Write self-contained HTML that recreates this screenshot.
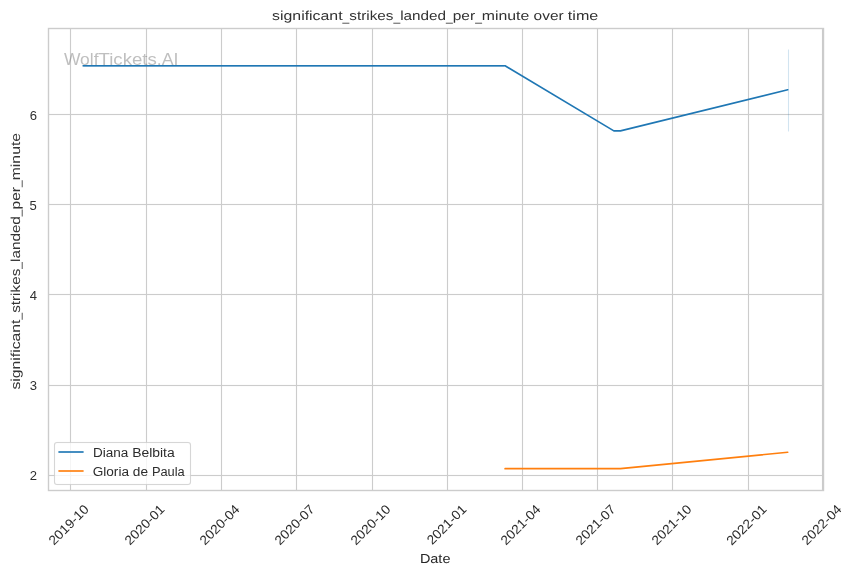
<!DOCTYPE html>
<html lang="en">
<head>
<meta charset="utf-8">
<title>significant_strikes_landed_per_minute over time</title>
<style>
html,body{margin:0;padding:0;background:#ffffff;}
body{width:854px;height:575px;overflow:hidden;}
svg{display:block;}
text{font-family:"Liberation Sans",sans-serif;fill:#262626;}
.gp{text-rendering:geometricPrecision;}
</style>
</head>
<body>
<svg width="854" height="575" viewBox="0 0 854 575">
<rect x="0" y="0" width="854" height="575" fill="#ffffff"/>
<!-- grid -->
<g stroke="#cccccc" stroke-width="1.111" fill="none" stroke-linecap="butt">
<line x1="70.5" y1="28.5" x2="70.5" y2="490.5"/>
<line x1="146.5" y1="28.5" x2="146.5" y2="490.5"/>
<line x1="221.5" y1="28.5" x2="221.5" y2="490.5"/>
<line x1="296.5" y1="28.5" x2="296.5" y2="490.5"/>
<line x1="372.5" y1="28.5" x2="372.5" y2="490.5"/>
<line x1="447.5" y1="28.5" x2="447.5" y2="490.5"/>
<line x1="522.5" y1="28.5" x2="522.5" y2="490.5"/>
<line x1="597.5" y1="28.5" x2="597.5" y2="490.5"/>
<line x1="672.5" y1="28.5" x2="672.5" y2="490.5"/>
<line x1="748.5" y1="28.5" x2="748.5" y2="490.5"/>
<line x1="822.5" y1="28.5" x2="822.5" y2="490.5"/>
<line x1="48.5" y1="475.5" x2="823.5" y2="475.5"/>
<line x1="48.5" y1="385.5" x2="823.5" y2="385.5"/>
<line x1="48.5" y1="294.5" x2="823.5" y2="294.5"/>
<line x1="48.5" y1="204.5" x2="823.5" y2="204.5"/>
<line x1="48.5" y1="114.5" x2="823.5" y2="114.5"/>
</g>
<!-- 5.5% antialias fringe rows of the horizontal grid lines -->
<g fill="#cccccc" fill-opacity="0.055">
<rect x="48.5" y="474.0" width="775.0" height="1"/><rect x="48.5" y="476.0" width="775.0" height="1"/>
<rect x="48.5" y="384.0" width="775.0" height="1"/><rect x="48.5" y="386.0" width="775.0" height="1"/>
<rect x="48.5" y="293.0" width="775.0" height="1"/><rect x="48.5" y="295.0" width="775.0" height="1"/>
<rect x="48.5" y="203.0" width="775.0" height="1"/><rect x="48.5" y="205.0" width="775.0" height="1"/>
<rect x="48.5" y="113.0" width="775.0" height="1"/><rect x="48.5" y="115.0" width="775.0" height="1"/>
</g>
<!-- confidence band -->
<line x1="788.5" y1="49.5" x2="788.5" y2="131.5" stroke="#1f77b4" stroke-opacity="0.2" stroke-width="1.111"/>
<!-- data lines -->
<polyline points="83.19,65.78 505.09,65.78 613.86,130.86 620.45,130.86 787.73,89.76" fill="none" stroke="#1f77b4" stroke-width="1.667" stroke-linecap="round" stroke-linejoin="round"/>
<rect x="83.2" y="66" width="421.4" height="1" fill="#1f77b4" fill-opacity="0.315"/>
<polyline points="505.09,468.66 614.68,468.66 620.45,468.66 787.73,452.25" fill="none" stroke="#ff7f0e" stroke-width="1.667" stroke-linecap="round" stroke-linejoin="round"/>
<!-- spines -->
<rect x="48.5" y="28.5" width="775.0" height="462.0" fill="none" stroke="#cccccc" stroke-width="1.389"/>
<!-- legend -->
<rect x="54.5" y="442.5" width="136.0" height="42.0" rx="2.44" ry="2.44" fill="#ffffff" fill-opacity="0.8" stroke="#cccccc" stroke-opacity="0.8" stroke-width="1.111"/>
<g fill="#cccccc" fill-opacity="0.044"><rect x="57.0" y="441.0" width="131.0" height="1"/><rect x="57.0" y="443.0" width="131.0" height="1"/><rect x="57.0" y="483.0" width="131.0" height="1"/><rect x="57.0" y="485.0" width="131.0" height="1"/></g>
<line x1="58.4" y1="452.0" x2="83.6" y2="452.0" stroke="#1f77b4" stroke-opacity="0.833" stroke-width="2"/>
<line x1="58.4" y1="471.0" x2="83.6" y2="471.0" stroke="#ff7f0e" stroke-opacity="0.833" stroke-width="2"/>
<!-- text (identity filter forces grayscale antialiasing) -->
<defs><filter id="ga" filterUnits="userSpaceOnUse" x="0" y="0" width="854" height="575" color-interpolation-filters="sRGB"><feOffset dx="0" dy="0"/></filter></defs>
<g filter="url(#ga)">
<text transform="translate(273.08,20.33)" font-size="13" class="gp" style="fill:#313131"><tspan x="-1" textLength="70.49" lengthAdjust="spacingAndGlyphs">significant</tspan><tspan x="69.49" y="0.91" textLength="6.73" lengthAdjust="spacingAndGlyphs">_</tspan><tspan x="76.22" y="0" textLength="44.14" lengthAdjust="spacingAndGlyphs">strikes</tspan><tspan x="120.36" y="0.91" textLength="6.73" lengthAdjust="spacingAndGlyphs">_</tspan><tspan x="127.09" y="0" textLength="45.88" lengthAdjust="spacingAndGlyphs">landed</tspan><tspan x="172.97" y="0.91" textLength="6.73" lengthAdjust="spacingAndGlyphs">_</tspan><tspan x="179.7" y="0" textLength="22.36" lengthAdjust="spacingAndGlyphs">per</tspan><tspan x="202.05" y="0.91" textLength="6.73" lengthAdjust="spacingAndGlyphs">_</tspan><tspan x="208.78" y="0" textLength="47.46" lengthAdjust="spacingAndGlyphs">minute</tspan> <tspan x="260.52" textLength="30.01" lengthAdjust="spacingAndGlyphs">over</tspan> <tspan x="294.81" textLength="30.4" lengthAdjust="spacingAndGlyphs">time</tspan></text>
<text transform="translate(419.9,562.5)" font-size="13" textLength="30.53" lengthAdjust="spacingAndGlyphs" class="gp">Date</text>
<text transform="translate(19.5,389.04) rotate(-90)" font-size="13" class="gp" style="fill:#353535"><tspan x="-0.5" textLength="69.97" lengthAdjust="spacingAndGlyphs">significant</tspan><tspan x="69.47" y="0.91" textLength="6.73" lengthAdjust="spacingAndGlyphs">_</tspan><tspan x="76.2" y="0" textLength="44.13" lengthAdjust="spacingAndGlyphs">strikes</tspan><tspan x="120.32" y="0.91" textLength="6.73" lengthAdjust="spacingAndGlyphs">_</tspan><tspan x="127.05" y="0" textLength="45.87" lengthAdjust="spacingAndGlyphs">landed</tspan><tspan x="172.92" y="0.91" textLength="6.73" lengthAdjust="spacingAndGlyphs">_</tspan><tspan x="179.64" y="0" textLength="22.35" lengthAdjust="spacingAndGlyphs">per</tspan><tspan x="201.99" y="0.91" textLength="6.73" lengthAdjust="spacingAndGlyphs">_</tspan><tspan x="208.72" y="0" textLength="47.45" lengthAdjust="spacingAndGlyphs">minute</tspan></text>
<text transform="translate(62.21,65.46)" font-size="16.4" style="fill:#808080" fill-opacity="0.5"><tspan x="1.75" textLength="34.58" lengthAdjust="spacingAndGlyphs">Wolf</tspan><tspan x="36.33" textLength="58.22" lengthAdjust="spacingAndGlyphs">Tickets</tspan><tspan x="94.55" textLength="21.71" lengthAdjust="spacingAndGlyphs">.AI</tspan></text>
<text transform="translate(53.94,545.82) rotate(-45)" font-size="13.1" textLength="50.42" lengthAdjust="spacingAndGlyphs" style="fill:#2d2d2d">2019-10</text>
<text transform="translate(129.93,545.65) rotate(-45)" font-size="13.1" textLength="50.17" lengthAdjust="spacingAndGlyphs" style="fill:#2d2d2d">2020-01</text>
<text transform="translate(204.92,545.65) rotate(-45)" font-size="13.1" textLength="50.17" lengthAdjust="spacingAndGlyphs" style="fill:#2d2d2d">2020-04</text>
<text transform="translate(279.91,545.65) rotate(-45)" font-size="13.1" textLength="50.17" lengthAdjust="spacingAndGlyphs" style="fill:#2d2d2d">2020-07</text>
<text transform="translate(355.97,545.65) rotate(-45)" font-size="13.1" textLength="50.17" lengthAdjust="spacingAndGlyphs" style="fill:#2d2d2d">2020-10</text>
<text transform="translate(432.13,545.29) rotate(-45)" font-size="13.1" textLength="49.67" lengthAdjust="spacingAndGlyphs" style="fill:#2d2d2d">2021-01</text>
<text transform="translate(505.94,545.65) rotate(-45)" font-size="13.1" textLength="50.17" lengthAdjust="spacingAndGlyphs" style="fill:#2d2d2d">2021-04</text>
<text transform="translate(580.93,545.65) rotate(-45)" font-size="13.1" textLength="50.17" lengthAdjust="spacingAndGlyphs" style="fill:#2d2d2d">2021-07</text>
<text transform="translate(656.99,545.65) rotate(-45)" font-size="13.1" textLength="50.17" lengthAdjust="spacingAndGlyphs" style="fill:#2d2d2d">2021-10</text>
<text transform="translate(731.69,546) rotate(-45)" font-size="13.1" textLength="50.67" lengthAdjust="spacingAndGlyphs" style="fill:#2d2d2d">2022-01</text>
<text transform="translate(806.96,545.65) rotate(-45)" font-size="13.1" textLength="50.17" lengthAdjust="spacingAndGlyphs" style="fill:#2d2d2d">2022-04</text>
<text transform="translate(29.68,479.98)" font-size="12.9" textLength="7.27" lengthAdjust="spacingAndGlyphs" style="fill:#303030">2</text>
<text transform="translate(29.68,390.41)" font-size="12.9" textLength="7.27" lengthAdjust="spacingAndGlyphs" style="fill:#303030">3</text>
<text transform="translate(29.68,300.34)" font-size="12.9" textLength="7.27" lengthAdjust="spacingAndGlyphs" style="fill:#303030">4</text>
<text transform="translate(29.56,209.52)" font-size="12.9" textLength="7.27" lengthAdjust="spacingAndGlyphs" style="fill:#303030">5</text>
<text transform="translate(29.68,119.69)" font-size="12.9" textLength="7.27" lengthAdjust="spacingAndGlyphs" style="fill:#303030">6</text>
<text transform="translate(92.93,456.55)" font-size="13.7" style="fill:#2c2c2c"><tspan x="0" textLength="35.35" lengthAdjust="spacingAndGlyphs">Diana</tspan> <tspan x="39.21" textLength="42.51" lengthAdjust="spacingAndGlyphs">Belbita</tspan></text>
<text transform="translate(92.93,475.66)" font-size="13.7" style="fill:#2c2c2c"><tspan x="-0.25" textLength="36.31" lengthAdjust="spacingAndGlyphs">Gloria</tspan> <tspan x="39.93" textLength="15.2" lengthAdjust="spacingAndGlyphs">de</tspan> <tspan x="58.99" textLength="32.82" lengthAdjust="spacingAndGlyphs">Paula</tspan></text>
</g>
</svg>
</body>
</html>
